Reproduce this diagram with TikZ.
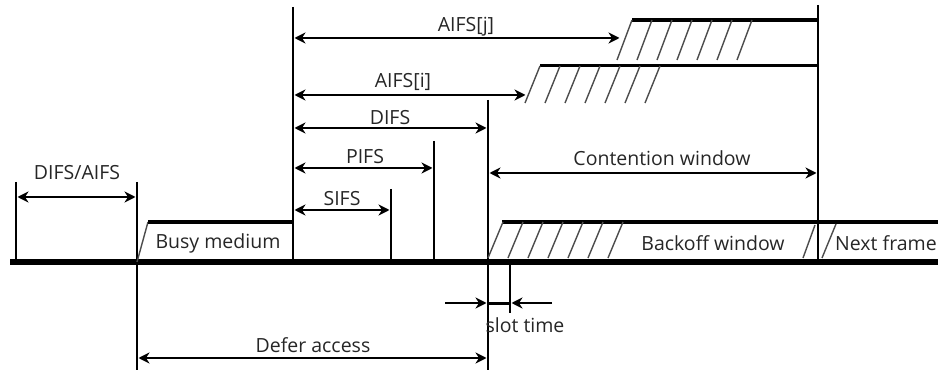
\documentclass[tikz,border=0pt]{standalone}
\usepackage{fontspec}
\setmainfont{Open Sans}
\usetikzlibrary{arrows.meta}
\begin{document}
\begin{tikzpicture}[x=1pt,y=-1pt,
  vline/.style={line width=2.8pt},
  base/.style={line width=5.5pt},
  med/.style={line width=3.6pt},
  hatch/.style={line width=1.4pt, black!70},
  dim/.style={line width=1.8pt, shorten >=1.5pt, shorten <=1.5pt,
     {Stealth[length=11pt,width=11pt,inset=3.5pt]}-{Stealth[length=11pt,width=11pt,inset=3.5pt]}},
  onearrow/.style={line width=1.8pt, -{Stealth[length=11pt,width=11pt,inset=3.5pt]}},
  lbl/.style={font=\fontsize{19.5}{21}\selectfont, inner sep=0pt, text=black!85}]
\useasboundingbox (0,0) rectangle (938,374);

% named coordinates for the time marks
\coordinate (t0top) at (16,182);   \coordinate (t0) at (16,262);
\coordinate (t1top) at (137,182);  \coordinate (t1bot) at (137,370);
\coordinate (t2top) at (293,7);    \coordinate (t2) at (293,262);
\coordinate (t3top) at (391,189);  \coordinate (t3) at (391,262);
\coordinate (t4top) at (434,141);  \coordinate (t4) at (434,262);
\coordinate (t5top) at (488,100);  \coordinate (t5bot) at (488,370);
\coordinate (t6top) at (510,262);  \coordinate (t6bot) at (510,313);
\coordinate (t7top) at (818,5);    \coordinate (t7) at (818,262);

% baseline
\draw[base] (10,262) -- (938,262);

% vertical marks
\draw[vline] (t0top) -- (t0);
\draw[vline] (t1top) -- (t1bot);
\draw[vline] (t2top) -- (t2);
\draw[vline] (t3top) -- (t3);
\draw[vline] (t4top) -- (t4);
\draw[vline] (t5top) -- (t5bot);
\draw[vline] (t6top) -- (t6bot);
\draw[vline] (t7top) -- (t7);

% busy medium
\draw[hatch] (137,262) -- (148,222);
\draw[med] (148,222) -- (293,222);

% backoff window
\draw[med] (502,222) -- (938,222);
\foreach \b in {488,508,...,608} \draw[hatch] (\b,258) -- ++(15,-36);
% next frame hatches
\draw[hatch] (803,258) -- (815,225);
\draw[hatch] (822,258) -- (836,224);

% AIFS[j] medium
\draw[med] (632,20) -- (818,20);
\foreach \b in {617,637,...,737} \draw[hatch] (\b,60) -- ++(15,-40);

% AIFS[i] medium
\draw[line width=3pt] (540,66) -- (818,66);
\foreach \b in {525,545,...,645} \draw[hatch] (\b,103) -- ++(15,-37);

% dimension arrows
\coordinate (aj) at (621,38);
\coordinate (ai) at (527,95);
\draw[dim] (16,197) -- (137,197);
\draw[dim] (293,210) -- (391,210);
\draw[dim] (293,168) -- (434,168);
\draw[dim] (293,128) -- (488,128);
\draw[dim] (293,95) -- (ai);
\draw[dim] (293,38) -- (aj);
\draw[dim] (488,173) -- (818,173);
\draw[dim] (137,358) -- (488,358);

% slot time
\coordinate (sl) at (445,303);
\coordinate (sr) at (552,303);
\draw[line width=3pt] (488,304) -- (510,304);
\draw[onearrow] (sl) -- (486.5,303);
\draw[onearrow] (sr) -- (511.5,303);

% labels
\node[lbl] (difsaifs) at (77,173) {DIFS/AIFS};
\node[lbl] (sifs) at (342,199) {SIFS};
\node[lbl] (pifs) at (365,157) {PIFS};
\node[lbl] (difs) at (390,118) {DIFS};
\node[lbl] (aifsi) at (403,82) {AIFS[i]};
\node[lbl] (aifsj) at (466,27) {AIFS[j]};
\node[lbl] (cw) at (662,158) {Contention window};
\node[lbl] (busy) at (218,243) {Busy medium};
\node[lbl] (backoff) at (713,243) {Backoff window};
\node[lbl] (next) at (886,243) {Next frame};
\node[lbl] (slot) at (525,325) {slot time};
\node[lbl] (defer) at (313,345) {Defer access};
\end{tikzpicture}
\end{document}
